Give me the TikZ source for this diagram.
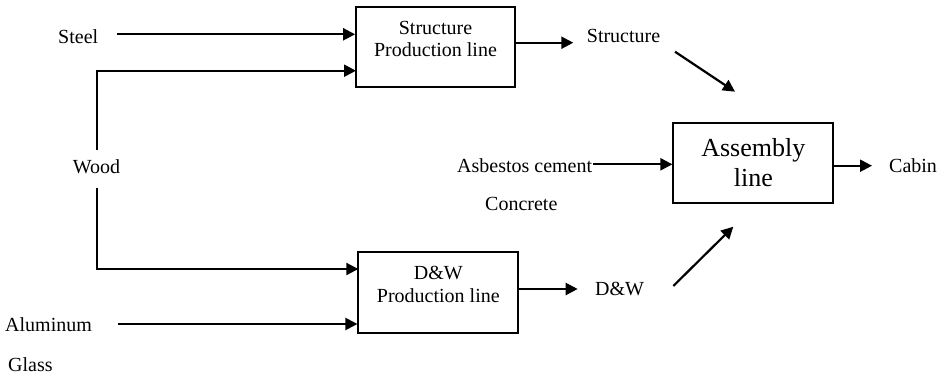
\documentclass[tikz,border=0pt]{standalone}
\usepackage{fontspec}
\setmainfont{Liberation Serif}
\usetikzlibrary{arrows.meta}
\begin{document}
\begin{tikzpicture}[x=1pt,y=-1pt,
  txt/.style={inner sep=0pt,font=\fontsize{20}{23}\selectfont},
  bigtxt/.style={inner sep=0pt,font=\fontsize{26}{30}\selectfont},
  box/.style={draw,line width=1.8pt,inner sep=0pt},
  arr/.style={line width=2.2pt,-{Triangle[length=12pt,width=12pt]}},
  ln/.style={line width=2.2pt}]
\useasboundingbox (0,0) rectangle (950,375);
% boxes
\node[box,minimum width=159pt,minimum height=80pt] (sbox) at (435.5,47) {};
\node[box,minimum width=160pt,minimum height=81pt] (dbox) at (438.3,292.2) {};
\node[box,minimum width=160pt,minimum height=79.4pt] (abox) at (753.3,163) {};
% box texts
\node[txt,anchor=base] (st1) at (435.5,34) {Structure};
\node[txt,anchor=base] (st2) at (435.5,56.7) {Production line};
\node[txt,anchor=base] (dt1) at (438.3,279.5) {D\&W};
\node[txt,anchor=base] (dt2) at (438.3,302.7) {Production line};
\node[bigtxt,anchor=base] (at1) at (753.3,156.7) {Assembly};
\node[bigtxt,anchor=base] (at2) at (753.3,186.7) {line};
% labels
\node[txt,anchor=base west] (steel) at (58,43) {Steel};
\node[txt,anchor=base west] (wood) at (72.7,173) {Wood};
\node[txt,anchor=base west] (alu) at (5,331.7) {Aluminum};
\node[txt,anchor=base west] (glass) at (8,371.7) {Glass};
\node[txt,anchor=base west] (struct) at (586.7,42.7) {Structure};
\node[txt,anchor=base west] (asb) at (457,172.3) {Asbestos cement};
\node[txt,anchor=base west] (conc) at (485,210) {Concrete};
\node[txt,anchor=base west] (cabin) at (889,172.3) {Cabin};
\node[txt,anchor=base west] (dw) at (595,295) {D\&W};
% coordinates
\coordinate (steelA) at (117,34.3);
\coordinate (woodT) at (97.3,150);
\coordinate (woodB) at (97.3,188);
\coordinate (sIn2) at (356,70.7);
\coordinate (dIn1) at (358.3,269);
\coordinate (aluA) at (118,324);
\coordinate (sOut) at (515,42.7);
\coordinate (sOutE) at (573.3,42.7);
\coordinate (dOut) at (518.3,289);
\coordinate (dOutE) at (577.7,289);
\coordinate (d1s) at (675,51.7);
\coordinate (d1e) at (735,91.7);
\coordinate (d2s) at (673.3,286);
\coordinate (d2e) at (733.3,226.7);
\coordinate (asbA) at (593.3,164.3);
\coordinate (cabA) at (833.3,165.7);
\coordinate (cabE) at (872,165.7);
% connectors
\draw[arr] (steelA) -- (steelA -| sbox.west);
\draw[arr] (woodT) |- (sIn2);
\draw[arr] (woodB) |- (dIn1);
\draw[arr] (aluA) -- (aluA -| dbox.west);
\draw[arr] (sOut) -- (sOutE);
\draw[arr] (dOut) -- (dOutE);
\draw[arr] (d1s) -- (d1e);
\draw[arr] (d2s) -- (d2e);
\draw[arr] (asbA) -- (asbA -| abox.west);
\draw[arr] (cabA) -- (cabE);
\end{tikzpicture}
\end{document}
